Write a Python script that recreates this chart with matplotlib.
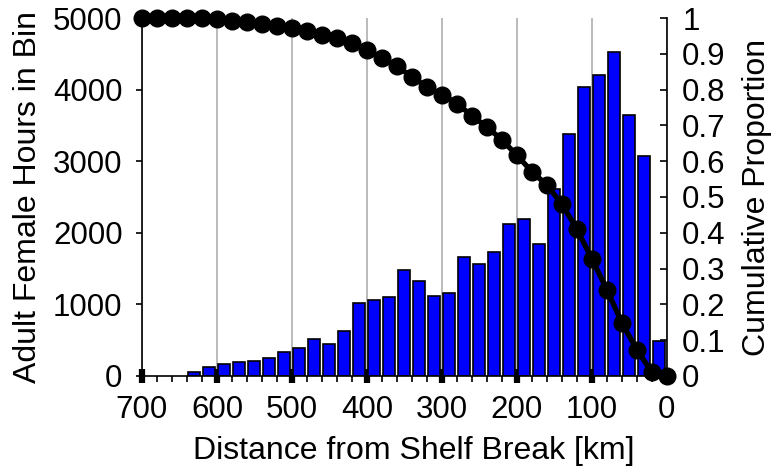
import matplotlib
matplotlib.use("Agg")
import matplotlib.pyplot as plt
import numpy as np

plt.rcParams['font.family'] = ['Liberation Sans', 'DejaVu Sans']

# Histogram: bin centres (km from shelf break) and adult female hours in bin
bin_centers = [10, 30, 50, 70, 90, 110, 130, 150, 170, 190, 210, 230, 250, 270, 290,
               310, 330, 350, 370, 390, 410, 430, 450, 470, 490, 510, 530, 550, 570,
               590, 610, 630]
hours = [489, 3073, 3645, 4529, 4204, 4032, 3380, 2612, 1844, 2188, 2118, 1727, 1566,
         1655, 1155, 1122, 1327, 1485, 1108, 1061, 1015, 633, 447, 512, 395, 331, 256,
         214, 200, 168, 130, 60]

# Cumulative proportion curve
cum_dist = [0, 20, 40, 60, 80, 100, 120, 140, 160, 180, 200, 220, 240, 260, 280, 300,
            320, 340, 360, 380, 400, 420, 440, 460, 480, 500, 520, 540, 560, 580, 600,
            620, 640, 660, 680, 700]
cum_prop = [0.0, 0.010, 0.073, 0.148, 0.241, 0.327, 0.410, 0.480, 0.533, 0.571, 0.616,
            0.660, 0.695, 0.727, 0.761, 0.785, 0.808, 0.835, 0.866, 0.889, 0.910, 0.931,
            0.944, 0.953, 0.964, 0.972, 0.979, 0.984, 0.989, 0.993, 0.996, 0.999, 1.0,
            1.0, 1.0, 1.0]

left_ticks = [0, 1000, 2000, 3000, 4000, 5000]
right_ticks = [0, 0.1, 0.2, 0.3, 0.4, 0.5, 0.6, 0.7, 0.8, 0.9, 1]
right_labels = ['0', '0.1', '0.2', '0.3', '0.4', '0.5', '0.6', '0.7', '0.8', '0.9', '1']
x_ticks = [700, 600, 500, 400, 300, 200, 100, 0]

fig = plt.figure(figsize=(7.8, 4.74), dpi=100)
ax = fig.add_axes([0.182, 0.207, 0.673, 0.755])

FS = 22.5
LFS = 23

ax.bar(bin_centers, hours, width=16, color='#0000ff', edgecolor='black',
       linewidth=1.2, zorder=2)
ax.set_xlim(700, 0)
ax.set_ylim(0, 5000)
ax.set_xticks(x_ticks)
ax.set_xticks(np.arange(0, 701, 20), minor=True)
ax.set_yticks(left_ticks)
ax.grid(axis='x', which='major', color='#b5b5b5', linewidth=1.3, zorder=0)
ax.set_axisbelow(True)
ax.spines['top'].set_visible(False)
ax.spines['right'].set_visible(False)
for s in ['left', 'bottom']:
    ax.spines[s].set_linewidth(1.2)
ax.tick_params(axis='x', which='major', direction='inout', length=10, width=4.5,
               labelsize=FS, pad=9)
ax.tick_params(axis='x', which='minor', direction='out', length=4, width=1.2)
ax.tick_params(axis='y', which='major', direction='out', length=4, width=1.2,
               labelsize=FS, pad=10)
ax.set_xlabel('Distance from Shelf Break [km]', fontsize=LFS)
ax.xaxis.set_label_coords(0.517, -0.167)
ax.set_ylabel('Adult Female Hours in Bin', fontsize=LFS)
ax.yaxis.set_label_coords(-0.189, 0.5)

ax2 = ax.twinx()
ax2.plot(cum_dist, cum_prop, color='black', linewidth=3.8, marker='o',
         markersize=12, clip_on=False, zorder=5)
ax2.set_ylim(0, 1)
ax2.set_xlim(700, 0)
ax2.set_yticks(right_ticks)
ax2.set_yticklabels(right_labels)
ax2.spines['top'].set_visible(False)
ax2.spines['left'].set_visible(False)
ax2.spines['bottom'].set_visible(False)
ax2.spines['right'].set_linewidth(1.2)
ax2.tick_params(axis='y', direction='in', length=5, width=1.2, labelsize=FS, pad=11)
ax2.set_ylabel('Cumulative Proportion', fontsize=LFS)
ax2.yaxis.set_label_coords(1.143, 0.5)

fig.savefig('out.png', dpi=100)
